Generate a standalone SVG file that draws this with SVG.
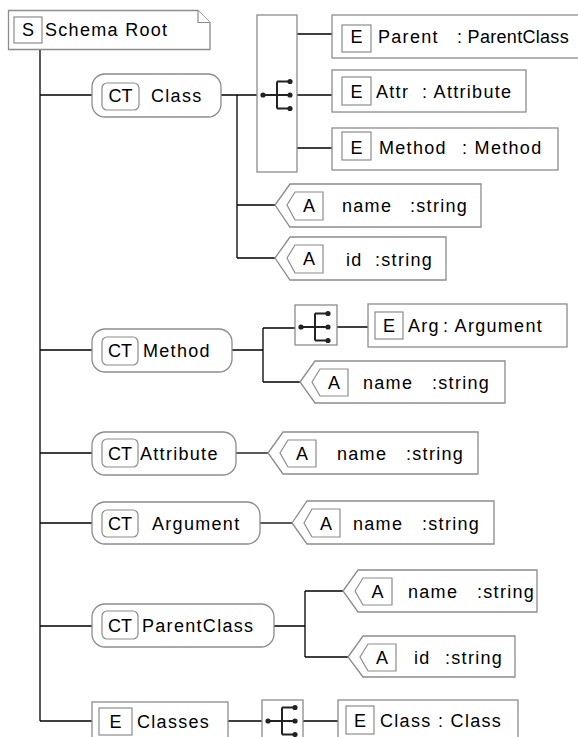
<svg xmlns="http://www.w3.org/2000/svg" width="578" height="737" viewBox="0 0 578 737">
<style>
.box{fill:#fff;stroke:#8c8c8c;stroke-width:1.3}
.in{fill:#fff;stroke:#8c8c8c;stroke-width:1.2}
.c{fill:none;stroke:#000;stroke-width:1.3}
.ic{fill:none;stroke:#222;stroke-width:2}
.dot{fill:#222}
text{font-family:"Liberation Sans",Arial,Helvetica,sans-serif;font-size:18px;fill:#000;letter-spacing:1.3px}
.m{text-anchor:middle;letter-spacing:0}
.tight{letter-spacing:0.3px}
</style>
<defs>
<g id="seq">
<path class="ic" d="M0,0 H27 M14,-13.5 V13.5 M14,-13.5 H27 M14,13.5 H27"/>
<circle class="dot" cx="0" cy="0" r="2.6"/>
<circle class="dot" cx="27" cy="-13.5" r="2.6"/>
<circle class="dot" cx="27" cy="0" r="2.6"/>
<circle class="dot" cx="27" cy="13.5" r="2.6"/>
</g>
</defs>

<g id="connectors">
<path class="c" d="M40,49 V721 M40,95 H92 M40,350 H92 M40,453 H92 M40,523 H92 M40,626 H92 M40,721 H92"/>
<path class="c" d="M221,95 H257 M237,95 V258 M237,205 H275 M237,258 H275"/>
<path class="c" d="M297,34 H332 M297,95 H332 M297,148 H332"/>
<path class="c" d="M232,350 H263 M263,328 V382 M263,328 H295 M263,382 H300 M337,327 H368"/>
<path class="c" d="M236,453 H268"/>
<path class="c" d="M260,523 H292"/>
<path class="c" d="M274,626 H305 M305,591 V657 M305,591 H343 M305,657 H348"/>
<path class="c" d="M228,721 H262 M303,721 H338"/>
</g>

<g id="schema-root">
<path class="box" d="M8.5,10.5 H198 L210,22.5 V49.5 H8.5 Z"/>
<path class="in" d="M198,10.5 V22.5 H210"/>
<rect class="in" x="14" y="17" width="28" height="26"/>
<text class="m" x="28" y="36">S</text>
<text x="45" y="36">Schema Root</text>
</g>

<g id="ct-class">
<rect class="box" x="92" y="74" width="129" height="43" rx="13"/>
<rect class="in" x="102" y="83" width="37" height="27" rx="5"/>
<text class="m" x="120.5" y="102">CT</text>
<text x="151" y="102">Class</text>
</g>

<g id="seq-class">
<rect class="box" x="257" y="15" width="40" height="157"/>
<use href="#seq" x="263" y="95"/>
</g>

<g id="el-parent">
<rect class="box" x="332" y="15" width="262" height="43"/>
<rect class="in" x="342" y="25" width="29" height="27"/>
<text class="m" x="356.5" y="43">E</text>
<text><tspan x="378" y="43">Parent</tspan> <tspan class="tight" x="457" y="43">: ParentClass</tspan></text>
</g>

<g id="el-attr">
<rect class="box" x="332" y="70" width="194" height="42"/>
<rect class="in" x="342" y="77" width="29" height="28"/>
<text class="m" x="356.5" y="98">E</text>
<text><tspan x="376" y="98">Attr</tspan> <tspan x="422" y="98">: Attribute</tspan></text>
</g>

<g id="el-method">
<rect class="box" x="332" y="128" width="226" height="42"/>
<rect class="in" x="342" y="132" width="29" height="28"/>
<text class="m" x="356.5" y="154">E</text>
<text><tspan x="379" y="154">Method</tspan> <tspan x="462" y="154">: Method</tspan></text>
</g>

<g id="attr-class-name">
<polygon class="box" points="275,205 290,184 481,184 481,227 290,227"/>
<polygon class="in" points="287,205 295,192 323,192 323,220 295,220"/>
<text class="m" x="309" y="212">A</text>
<text><tspan x="342" y="212">name</tspan> <tspan x="410" y="212">:string</tspan></text>
</g>

<g id="attr-class-id">
<polygon class="box" points="275,258 290,237 446,237 446,280 290,280"/>
<polygon class="in" points="287,258 295,245 323,245 323,273 295,273"/>
<text class="m" x="309" y="265">A</text>
<text><tspan x="346" y="266">id</tspan> <tspan x="375" y="266">:string</tspan></text>
</g>

<g id="ct-method">
<rect class="box" x="92" y="329" width="140" height="43" rx="13"/>
<rect class="in" x="102" y="337" width="36" height="28" rx="5"/>
<text class="m" x="120" y="357">CT</text>
<text x="143" y="357">Method</text>
</g>

<g id="seq-method">
<rect class="box" x="295" y="305" width="42" height="40"/>
<use href="#seq" x="301" y="327"/>
</g>

<g id="el-arg">
<rect class="box" x="368" y="304" width="199" height="43"/>
<rect class="in" x="375" y="312" width="28" height="27"/>
<text class="m" x="389" y="332">E</text>
<text><tspan x="408" y="332">Arg</tspan> <tspan x="443" y="332">: Argument</tspan></text>
</g>

<g id="attr-method-name">
<polygon class="box" points="300,382 315,361 505,361 505,403 315,403"/>
<polygon class="in" points="312,382 320,369 348,369 348,396 320,396"/>
<text class="m" x="334" y="389">A</text>
<text><tspan x="363" y="389">name</tspan> <tspan x="432" y="389">:string</tspan></text>
</g>

<g id="ct-attribute">
<rect class="box" x="92" y="432" width="144" height="43" rx="13"/>
<rect class="in" x="102" y="439" width="36" height="28" rx="5"/>
<text class="m" x="120" y="460">CT</text>
<text x="140" y="460">Attribute</text>
</g>

<g id="attr-attribute-name">
<polygon class="box" points="268,453 283,432 478,432 478,474 283,474"/>
<polygon class="in" points="280,453 288,440 316,440 316,467 288,467"/>
<text class="m" x="302" y="460">A</text>
<text><tspan x="337" y="460">name</tspan> <tspan x="406" y="460">:string</tspan></text>
</g>

<g id="ct-argument">
<rect class="box" x="92" y="502" width="168" height="42" rx="13"/>
<rect class="in" x="102" y="510" width="36" height="27" rx="5"/>
<text class="m" x="120" y="530">CT</text>
<text x="152" y="530">Argument</text>
</g>

<g id="attr-argument-name">
<polygon class="box" points="292,523 307,501 494,501 494,544 307,544"/>
<polygon class="in" points="304,523 312,509 340,509 340,537 312,537"/>
<text class="m" x="326" y="530">A</text>
<text><tspan x="353" y="530">name</tspan> <tspan x="422" y="530">:string</tspan></text>
</g>

<g id="ct-parentclass">
<rect class="box" x="92" y="604" width="182" height="43" rx="13"/>
<rect class="in" x="102" y="611" width="36" height="28" rx="5"/>
<text class="m" x="120" y="632">CT</text>
<text x="142" y="632">ParentClass</text>
</g>

<g id="attr-parentclass-name">
<polygon class="box" points="343,591 358,570 537,570 537,612 358,612"/>
<polygon class="in" points="355,591 363,578 392,578 392,605 363,605"/>
<text class="m" x="377.5" y="598">A</text>
<text><tspan x="408" y="598">name</tspan> <tspan x="477" y="598">:string</tspan></text>
</g>

<g id="attr-parentclass-id">
<polygon class="box" points="348,657 363,636 515,636 515,677 363,677"/>
<polygon class="in" points="360,657 368,644 396,644 396,671 368,671"/>
<text class="m" x="382" y="664">A</text>
<text><tspan x="414" y="664">id</tspan> <tspan x="445" y="664">:string</tspan></text>
</g>

<g id="el-classes">
<rect class="box" x="92" y="702" width="136" height="44"/>
<rect class="in" x="99" y="708" width="33" height="27"/>
<text class="m" x="115.5" y="728">E</text>
<text x="137" y="728">Classes</text>
</g>

<g id="seq-classes">
<rect class="box" x="262" y="700" width="41" height="46"/>
<use href="#seq" x="268" y="721"/>
</g>

<g id="el-class">
<rect class="box" x="338" y="700" width="180" height="46"/>
<rect class="in" x="346" y="706" width="28" height="28"/>
<text class="m" x="360" y="727">E</text>
<text><tspan x="380" y="727">Class</tspan> <tspan x="438" y="727">: Class</tspan></text>
</g>
</svg>
